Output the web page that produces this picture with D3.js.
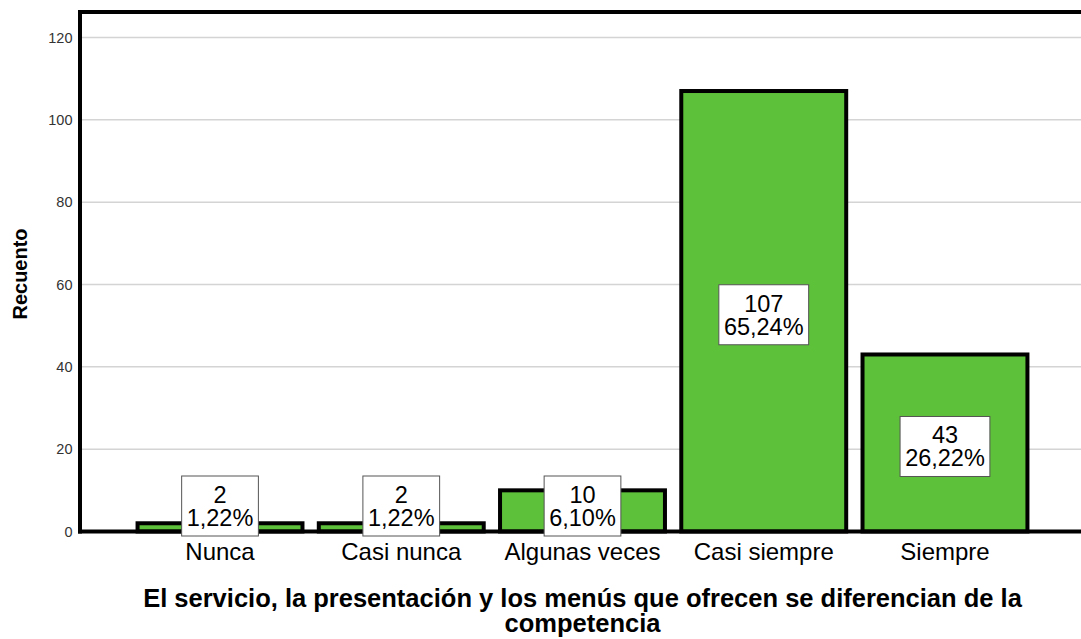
<!DOCTYPE html>
<html><head><meta charset="utf-8">
<script src="https://cdnjs.cloudflare.com/ajax/libs/d3/7.8.5/d3.min.js"></script>
<style>body{margin:0;background:#fff}svg{display:block;font-family:"Liberation Sans",Arial,sans-serif}</style>
</head><body>
<svg id="c" width="1081" height="639"></svg>
<script>
const categories = ["Nunca","Casi nunca","Algunas veces","Casi siempre","Siempre"];
const counts = [2,2,10,107,43];
const percents = ["1,22%","1,22%","6,10%","65,24%","26,22%"];
const yTicks = [0,20,40,60,80,100,120];
const yLabel = "Recuento";
const titleLines = ["El servicio, la presentación y los menús que ofrecen se diferencian de la","competencia"];

const svg = d3.select("#c");
const plotLeft = 80, plotRight = 1085, plotTop = 12;
const x = d3.scaleBand().domain(categories).range([129.4,1035.6]).paddingInner(0.09).paddingOuter(0.045);
const y = d3.scaleLinear().domain([0,120]).range([531.5,37.5]);

// gridlines
svg.append("g").selectAll("line").data(yTicks.filter(d=>d>0)).join("line")
  .attr("x1",plotLeft).attr("x2",plotRight).attr("y1",d=>y(d)).attr("y2",d=>y(d))
  .attr("stroke","#d4d4d4").attr("stroke-width",1.5);

// y axis labels
const yAxis = svg.append("g").attr("transform",`translate(${plotLeft-6},0)`)
  .call(d3.axisLeft(y).tickValues(yTicks).tickSize(0).tickPadding(1.5));
yAxis.select(".domain").remove();
yAxis.selectAll("text").attr("font-size",14.5).attr("fill","#333").attr("font-family","Liberation Sans, Arial, sans-serif");

// bars
svg.append("g").selectAll("rect").data(categories).join("rect")
  .attr("x",d=>x(d)).attr("width",x.bandwidth())
  .attr("y",(d,i)=>y(counts[i])).attr("height",(d,i)=>y(0)-y(counts[i]))
  .attr("fill","#5ec13a").attr("stroke","#000").attr("stroke-width",4);

// frame
svg.append("line").attr("x1",plotLeft).attr("x2",plotRight).attr("y1",plotTop).attr("y2",plotTop).attr("stroke","#000").attr("stroke-width",4);
svg.append("line").attr("x1",plotLeft).attr("x2",plotLeft).attr("y1",plotTop-2).attr("y2",y(0)+2).attr("stroke","#000").attr("stroke-width",4);
svg.append("line").attr("x1",plotLeft-2).attr("x2",plotRight).attr("y1",y(0)).attr("y2",y(0)).attr("stroke","#000").attr("stroke-width",4);

// x axis labels
const xAxis = svg.append("g").attr("transform",`translate(0,${y(0)})`)
  .call(d3.axisBottom(x).tickSize(0).tickPadding(11));
xAxis.select(".domain").remove();
xAxis.selectAll("text").attr("font-size",24).attr("fill","#000").attr("font-family","Liberation Sans, Arial, sans-serif");

// data labels
const lab = svg.append("g").selectAll("g").data(categories).join("g");
lab.each(function(d,i){
  const g = d3.select(this);
  const cx = x(d)+x.bandwidth()/2;
  const mid = (y(counts[i])+y(0))/2 + 3.5;
  const cy = Math.min(mid, y(0)-25.5);
  const rect = g.append("rect");
  const t = g.append("text").attr("text-anchor","middle").attr("font-size",23.5).attr("fill","#000");
  t.append("tspan").attr("x",cx).attr("y",cy-3).text(counts[i]);
  t.append("tspan").attr("x",cx).attr("y",cy+20).text(percents[i]);
  const w = t.node().getBBox().width + 10;
  rect.attr("x",cx-w/2).attr("y",cy-30).attr("width",w).attr("height",60)
    .attr("fill","#fff").attr("stroke","#555").attr("stroke-width",1);
});

// y label
svg.append("text").attr("transform","translate(27,274) rotate(-90)").attr("text-anchor","middle")
  .attr("font-size",20).attr("font-weight","bold").text(yLabel);

// title
const tt = svg.append("text").attr("text-anchor","middle").attr("font-size",25.5).attr("font-weight","bold");
titleLines.forEach((l,i)=>tt.append("tspan").attr("x",582.5).attr("y",607+i*24.5).text(l));
</script>
</body></html>
